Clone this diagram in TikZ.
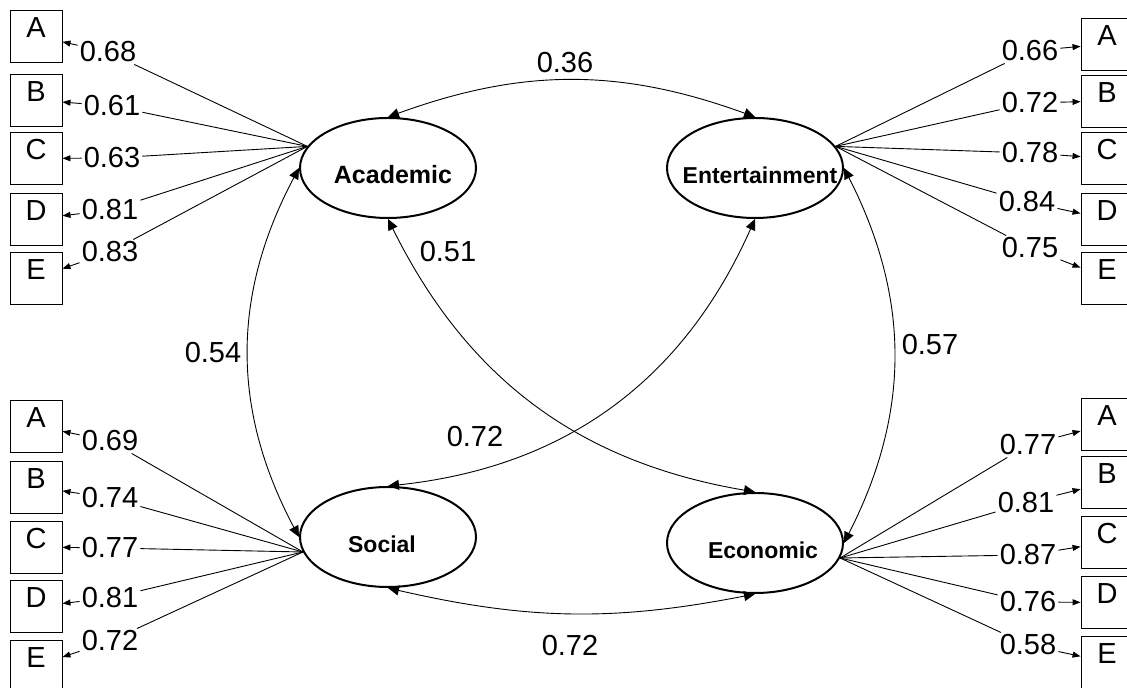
\documentclass[tikz,border=0pt]{standalone}
\usepackage{fontspec}
\setmainfont{Liberation Sans}
\usetikzlibrary{shapes.geometric,arrows.meta}
\tikzset{
  latent/.style={ellipse,draw,line width=2bp,minimum width=176bp,minimum height=100bp,inner sep=0pt},
  lname/.style={font=\fontsize{23bp}{27bp}\selectfont\bfseries,yshift=-7bp},
  item/.style={draw,line width=0.9bp,minimum size=52bp,inner sep=0pt,text height=21bp,text depth=18bp,font=\fontsize{29bp}{34bp}\selectfont},
  coef/.style={inner sep=2bp,font=\fontsize{29bp}{34bp}\selectfont},
  load/.style={line width=0.9bp},
  toitem/.style={line width=0.9bp,-{Triangle[length=8bp,width=6bp]}},
  cov/.style={line width=0.9bp,{Triangle[length=11bp,width=10bp]}-{Triangle[length=11bp,width=10bp]}}
}
\begin{document}
\begin{tikzpicture}[x=1bp,y=1bp]
\useasboundingbox (0,0) rectangle (1127,688);
% factors
\node[latent,label={[lname,xshift=5bp,font=\fontsize{25bp}{30bp}\selectfont\bfseries]center:Academic}] (acad) at (388,520) {};
\node[latent,label={[lname,xshift=5bp]center:Entertainment}] (ent) at (755,520) {};
\node[latent,label={[lname,xshift=-6bp]center:Social}] (soc) at (388,151) {};
\node[latent,label={[lname,xshift=8bp]center:Economic}] (eco) at (755,145) {};
% items
\node[item] (aA) at (36,652) {A};
\node[item] (aB) at (36,588) {B};
\node[item] (aC) at (36,529.5) {C};
\node[item] (aD) at (36,469) {D};
\node[item] (aE) at (36,410) {E};
\node[item] (eA) at (1107,644) {A};
\node[item] (eB) at (1107,587) {B};
\node[item] (eC) at (1107,529.5) {C};
\node[item] (eD) at (1107,469) {D};
\node[item] (eE) at (1107,410) {E};
\node[item] (sA) at (36,262) {A};
\node[item] (sB) at (36,201) {B};
\node[item] (sC) at (36,141) {C};
\node[item] (sD) at (36,81.5) {D};
\node[item] (sE) at (36,22) {E};
\node[item] (cA) at (1107,264) {A};
\node[item] (cB) at (1107,205.5) {B};
\node[item] (cC) at (1107,145.5) {C};
\node[item] (cD) at (1107,85.5) {D};
\node[item] (cE) at (1107,26) {E};
% loadings
\node[coef] (la1) at (108,636) {0.68}; \draw[load] (acad.165) -- (la1); \draw[toitem] (la1) -- (aA);
\node[coef] (la2) at (112,582) {0.61}; \draw[load] (acad.165) -- (la2); \draw[toitem] (la2) -- (aB);
\node[coef] (la3) at (112,530) {0.63}; \draw[load] (acad.165) -- (la3); \draw[toitem] (la3) -- (aC);
\node[coef] (la4) at (110,478) {0.81}; \draw[load] (acad.165) -- (la4); \draw[toitem] (la4) -- (aD);
\node[coef] (la5) at (110,436) {0.83}; \draw[load] (acad.165) -- (la5); \draw[toitem] (la5) -- (aE);
\node[coef] (le1) at (1030,637) {0.66}; \draw[load] (ent.15) -- (le1); \draw[toitem] (le1) -- (eA);
\node[coef] (le2) at (1030,585) {0.72}; \draw[load] (ent.15) -- (le2); \draw[toitem] (le2) -- (eB);
\node[coef] (le3) at (1030,535) {0.78}; \draw[load] (ent.15) -- (le3); \draw[toitem] (le3) -- (eC);
\node[coef] (le4) at (1027,486) {0.84}; \draw[load] (ent.15) -- (le4); \draw[toitem] (le4) -- (eD);
\node[coef] (le5) at (1030,440) {0.75}; \draw[load] (ent.15) -- (le5); \draw[toitem] (le5) -- (eE);
\node[coef] (ls1) at (110,247) {0.69}; \draw[load] (soc.190) -- (ls1); \draw[toitem] (ls1) -- (sA);
\node[coef] (ls2) at (110,190) {0.74}; \draw[load] (soc.190) -- (ls2); \draw[toitem] (ls2) -- (sB);
\node[coef] (ls3) at (110,140) {0.77}; \draw[load] (soc.190) -- (ls3); \draw[toitem] (ls3) -- (sC);
\node[coef] (ls4) at (110,90) {0.81}; \draw[load] (soc.190) -- (ls4); \draw[toitem] (ls4) -- (sD);
\node[coef] (ls5) at (110,47) {0.72}; \draw[load] (soc.190) -- (ls5); \draw[toitem] (ls5) -- (sE);
\node[coef] (lc1) at (1028,243) {0.77}; \draw[load] (eco.-10) -- (lc1); \draw[toitem] (lc1) -- (cA);
\node[coef] (lc2) at (1026,185) {0.81}; \draw[load] (eco.-10) -- (lc2); \draw[toitem] (lc2) -- (cB);
\node[coef] (lc3) at (1028,133) {0.87}; \draw[load] (eco.-10) -- (lc3); \draw[toitem] (lc3) -- (cC);
\node[coef] (lc4) at (1028,86) {0.76}; \draw[load] (eco.-10) -- (lc4); \draw[toitem] (lc4) -- (cD);
\node[coef] (lc5) at (1028,43) {0.58}; \draw[load] (eco.-10) -- (lc5); \draw[toitem] (lc5) -- (cE);
% correlations
\draw[cov] (acad.north) to[bend left=20] (ent.north);
\draw[cov] (acad.west) to[bend right=28] (soc.west);
\draw[cov] (acad.south) to[bend right=27] (eco.north);
\draw[cov] (soc.north) to[bend right=30] (ent.south);
\draw[cov] (ent.east) to[bend left=27] (eco.east);
\draw[cov] (soc.south) to[bend right=12] (eco.south);
\node[coef] (r1) at (565,625) {0.36};
\node[coef] (r2) at (213,335) {0.54};
\node[coef] (r3) at (448,436) {0.51};
\node[coef] (r4) at (475,251) {0.72};
\node[coef] (r5) at (930,343) {0.57};
\node[coef] (r6) at (570,42) {0.72};
\end{tikzpicture}
\end{document}
